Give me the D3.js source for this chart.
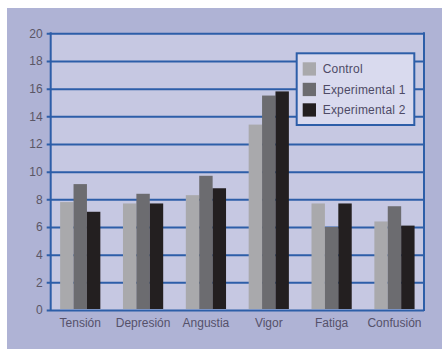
<!DOCTYPE html>
<html>
<head>
<meta charset="utf-8">
<script src="https://cdn.jsdelivr.net/npm/d3@7"></script>
<style>
  html, body { margin: 0; padding: 0; background: #fff; }
  svg { display: block; font-family: "Liberation Sans", Arial, sans-serif; }
</style>
</head>
<body>
<svg id="chart" width="442" height="349"></svg>
<script>
// data
var categories = ["Tensión", "Depresión", "Angustia", "Vigor", "Fatiga", "Confusión"];
var series = ["Control", "Experimental 1", "Experimental 2"];
var control = [7.8, 7.7, 8.3, 13.4, 7.7, 6.4];
var experimental1 = [9.1, 8.4, 9.7, 15.5, 6.0, 7.5];
var experimental2 = [7.1, 7.7, 8.8, 15.8, 7.7, 6.1];
var yTicks = [0, 2, 4, 6, 8, 10, 12, 14, 16, 18, 20];
var colors = ["#a9a9ac", "#6c6c70", "#231f20"];

var values = [control, experimental1, experimental2];

var svg = d3.select("#chart");
var plot = { left: 50.7, right: 424, top: 33.3, bottom: 310 };

// outer panel
svg.append("rect")
    .attr("x", 7).attr("y", 8)
    .attr("width", 435).attr("height", 341)
    .style("fill", "#afb3d5");

// plot area
svg.append("rect")
    .attr("x", plot.left).attr("y", plot.top)
    .attr("width", plot.right - plot.left).attr("height", plot.bottom - plot.top)
    .style("fill", "#c6c8e2");

var y = d3.scaleLinear().domain([0, 20]).range([plot.bottom, plot.top]);

var x0 = d3.scaleBand()
    .domain(categories)
    .range([plot.left, plot.right])
    .paddingInner(0.36)
    .paddingOuter(0.15);

var x1 = d3.scaleBand()
    .domain(series)
    .range([0, x0.bandwidth()])
    .padding(0);

// grid + y axis
var yAxis = d3.axisLeft(y)
    .tickValues(yTicks)
    .tickSize(-(plot.right - plot.left) - 4)
    .tickPadding(5)
    .tickFormat(d3.format("d"));

var gy = svg.append("g")
    .attr("transform", "translate(" + (plot.right) + ",0)")
    .call(yAxis);
gy.select(".domain").remove();
gy.selectAll(".tick line")
    .attr("x1", 0)
    .attr("x2", -(plot.right - plot.left) - 4)
    .attr("stroke", "#2d5ea8")
    .attr("stroke-width", 2);
gy.selectAll(".tick text")
    .attr("x", -(plot.right - plot.left) - 8)
    .style("font-size", "12px")
    .style("fill", "#5a5666");

// frame verticals
svg.append("line")
    .attr("x1", plot.left).attr("x2", plot.left)
    .attr("y1", plot.top - 1).attr("y2", plot.bottom + 1)
    .attr("stroke", "#2d5ea8").attr("stroke-width", 2);
svg.append("line")
    .attr("x1", plot.right).attr("x2", plot.right)
    .attr("y1", plot.top - 1).attr("y2", plot.bottom + 1)
    .attr("stroke", "#2d5ea8").attr("stroke-width", 2);

// bars
var groups = svg.append("g").selectAll("g")
    .data(categories)
    .enter().append("g")
    .attr("transform", d => "translate(" + x0(d) + ",0)");

groups.selectAll("rect")
    .data((d, i) => series.map((s, j) => ({ s: s, v: values[j][i], c: colors[j] })))
    .enter().append("rect")
    .attr("x", d => x1(d.s))
    .attr("y", d => y(d.v))
    .attr("width", x1.bandwidth())
    .attr("height", d => y(0) - y(d.v) - 1)
    .style("fill", d => d.c);

// x labels
var xAxis = d3.axisBottom(x0).tickSize(0).tickPadding(8);
var gx = svg.append("g")
    .attr("transform", "translate(0," + plot.bottom + ")")
    .call(xAxis);
gx.select(".domain").remove();
gx.selectAll(".tick text")
    .style("font-size", "12px")
    .style("fill", "#55516a");

// legend
var legend = svg.append("g").attr("transform", "translate(296.7,53.3)");
legend.append("rect")
    .attr("width", 117.6).attr("height", 71.7)
    .style("fill", "#d9daee")
    .attr("stroke", "#2d5ea8").attr("stroke-width", 2);

var items = legend.selectAll("g.item")
    .data(series)
    .enter().append("g")
    .attr("class", "item")
    .attr("transform", (d, i) => "translate(6," + (9 + i * 20.5) + ")");
items.append("rect")
    .attr("width", 13.3).attr("height", 13.3)
    .style("fill", (d, i) => colors[i]);
items.append("text")
    .attr("x", 20)
    .attr("y", 7)
    .attr("dy", "0.35em")
    .style("font-size", "12px")
    .style("letter-spacing", "0.2px")
    .style("fill", "#4e4a66")
    .text(d => d);
</script>
</body>
</html>
